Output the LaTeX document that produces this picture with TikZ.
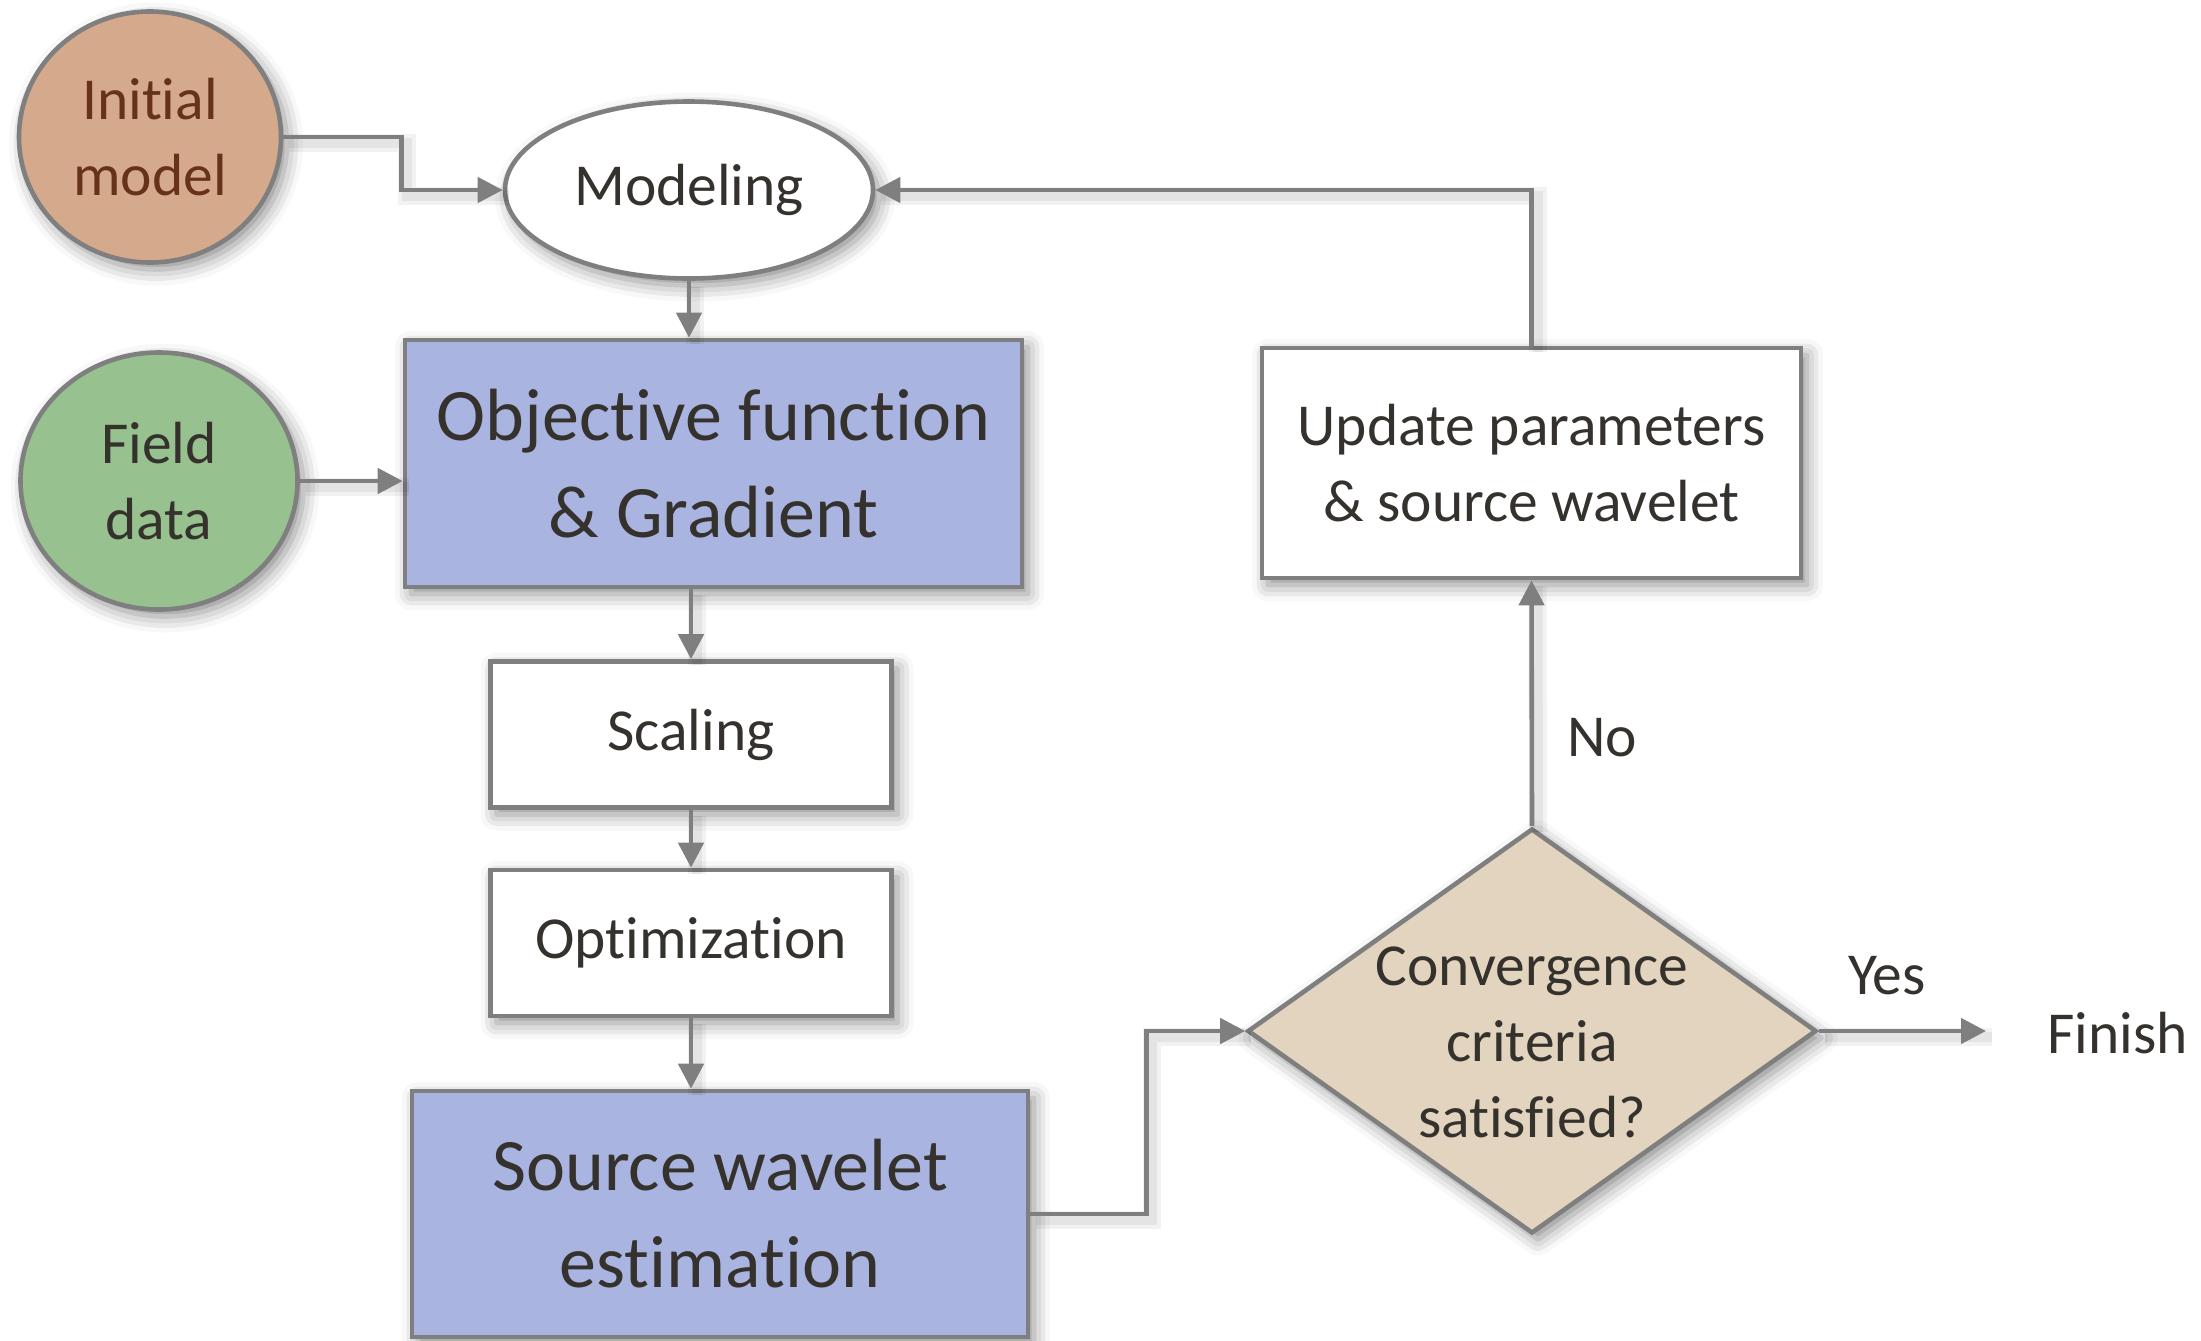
\documentclass[tikz,border=0pt]{standalone}
\usepackage{fontspec}
\setmainfont{Carlito}[Ligatures=NoCommon]
\usetikzlibrary{shapes.geometric,arrows.meta,shadows.blur}

\definecolor{edge}{HTML}{7F7F7F}
\definecolor{ink}{HTML}{35312D}
\definecolor{bluefill}{HTML}{AAB4E0}
\definecolor{tanfill}{HTML}{D5A98B}
\definecolor{browntext}{HTML}{66321A}
\definecolor{greenfill}{HTML}{97C18F}
\definecolor{beige}{HTML}{E2D4BE}

\begin{document}
\begin{tikzpicture}[x=0.5pt,y=-0.5pt,
  every node/.style={text=ink, font=\fontsize{29.75}{38}\selectfont, align=center, inner sep=0pt},
  frame/.style={draw=edge, line width=2.3pt,
    blur shadow={shadow xshift=3pt, shadow yshift=-3.5pt, shadow blur radius=8pt, shadow opacity=45}},
  box/.style={frame, rectangle, fill=white},
  bigbox/.style={frame, rectangle, fill=bluefill, font=\fontsize{37}{48.5}\selectfont},
  oval/.style={frame, ellipse},
  softline/.style={preaction={draw=black, draw opacity=0.05, line width=9pt, transform canvas={shift={(3pt,-3pt)}}, -},
                   preaction={draw=black, draw opacity=0.06, line width=5pt, transform canvas={shift={(3pt,-3pt)}}, -}},
  link/.style={softline, draw=edge, line width=2.3pt, -{Triangle[length=12.5pt,width=12.5pt]}}
]
\useasboundingbox (0,0) rectangle (2201,1340);

% inputs
\node[oval, fill=tanfill, text=browntext, minimum width=131pt, minimum height=125.5pt] (init) at (150,137) {Initial\\model};
\node[oval, fill=greenfill, minimum width=138.5pt, minimum height=128.5pt] (field) at (159,481) {Field\\data};

% main chain
\node[oval, fill=white, minimum width=184pt, minimum height=88.5pt] (model) at (689,190) {Modeling};
\node[bigbox, minimum width=308.5pt, minimum height=123.5pt] (obj) at (713.5,463.5) {Objective function\\\& Gradient};
\node[box, minimum width=200.5pt, minimum height=73pt] (scal) at (691,734.5) {Scaling};
\node[box, minimum width=200.5pt, minimum height=73pt] (opt) at (691,943) {Optimization};
\node[bigbox, minimum width=308pt, minimum height=123pt] (src) at (720,1214) {Source wavelet\\estimation};

% loop and decision
\node[box, minimum width=269.5pt, minimum height=115pt] (upd) at (1531.5,463) {Update parameters\\\& source wavelet};
\node[frame, diamond, fill=beige, minimum width=284.5pt, minimum height=202.5pt] (conv) at (1532,1031) {};
\node (convtext) at (1532,1042) {Convergence\\criteria\\satisfied?};
\coordinate (end) at (1986,1031);
\node[anchor=west] (finish) at (2047,1033) {Finish};
\node[anchor=west] (no) at (1567,738) {No};
\node (yes) at (1887,976) {Yes};

% connectors
\draw[link] (init.east) -- ++(118,0) |- (model.west);
\draw[link] (model.south) -- (model.south |- obj.north);
\draw[link] (field.east) -- (field.east -| obj.west);
\draw[link] (obj.south -| scal.north) -- (scal.north);
\draw[link] (scal.south) -- (opt.north);
\draw[link] (opt.south) -- (opt.south |- src.north);
\draw[link] (src.east) -- ++(116,0) |- (conv.west);
\draw[link] (conv.north) -- (upd.south);
\draw[link] (upd.north) |- (model.east);
\draw[link] (conv.east) -- (end);
\end{tikzpicture}
\end{document}
